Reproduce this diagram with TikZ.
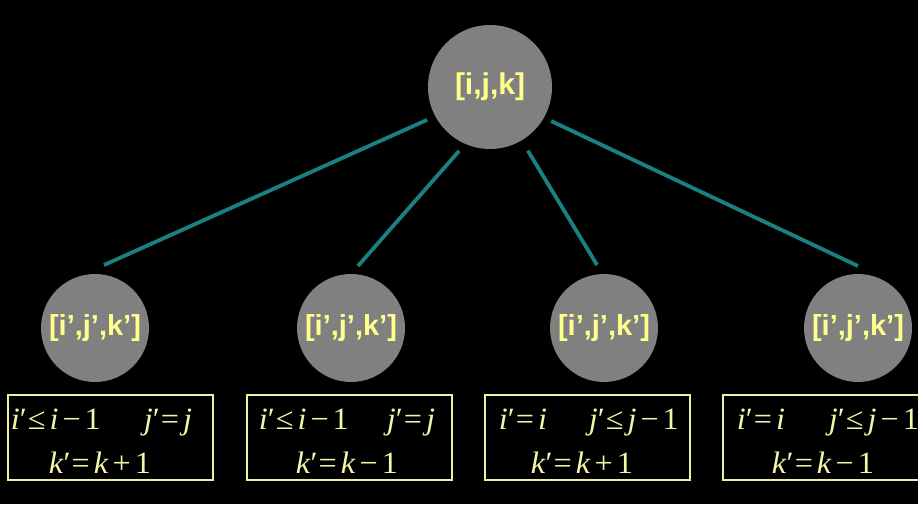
\documentclass[tikz,border=0pt]{standalone}
\usepackage{fontspec}
\setmainfont{Liberation Serif}
\newfontfamily\labelfont{Liberation Sans}
\newfontfamily\condfont[FakeStretch=1.04]{Liberation Serif}
\usetikzlibrary{calc}
\definecolor{nodegray}{HTML}{808080}
\definecolor{labelyellow}{HTML}{FFFF8C}
\definecolor{condyellow}{HTML}{F6F6AA}
\definecolor{edgeteal}{HTML}{1A8080}
\definecolor{boxyellow}{HTML}{F0F0A0}
\newcommand{\iv}{\textit{i}}
\newcommand{\jv}{\textit{j}}
\newcommand{\kv}{\textit{k}}
\newcommand{\pr}{′}
\newcommand{\gp}{\kern4pt}
\begin{document}
\begin{tikzpicture}[x=1pt,y=1pt,
  statenode/.style={circle,fill=nodegray,inner sep=0pt,text=labelyellow,
    font=\labelfont\bfseries\fontsize{30}{30}\selectfont},
  childnode/.style={statenode,minimum size=108pt,
    font=\labelfont\bfseries\fontsize{29}{29}\selectfont},
  link/.style={edgeteal,line width=3.8pt},
  condbox/.style={draw=boxyellow,line width=2.6pt,minimum height=85pt,inner sep=0pt},
  cond/.style={text=condyellow,inner sep=0pt,font=\condfont\fontsize{31}{31}\selectfont}]
  % background and frame
  \useasboundingbox (0,0) rectangle (918,504);
  \clip (0,0) rectangle (918,504);
  \fill[black] (0,0) rectangle (918,504);

  % state nodes
  \node[statenode,minimum size=124pt] (top) at (490,417) {[i,j,k]};
  \node[childnode] (c1) at (95,176) {[i’,j’,k’]};
  \node[childnode] (c2) at (351,176) {[i’,j’,k’]};
  \node[childnode] (c3) at (604,176) {[i’,j’,k’]};
  \node[childnode] (c4) at (858,176) {[i’,j’,k’]};

  % connectors
  \draw[link] ($(top)+(207.6:71)$) -- ($(c1)+(81.9:63.6)$);
  \draw[link] ($(top)+(244.2:71)$) -- ($(c2)+(83.6:62.4)$);
  \draw[link] ($(top)+(300.7:74)$) -- ($(c3)+(96.3:63.4)$);
  \draw[link] ($(top)+(330.9:70)$) -- ($(c4)+(90:62)$);

  % constraint boxes
  \node[condbox,minimum width=205pt] (b1) at (110.5,66.5) {};
  \node[condbox,minimum width=205pt] (b2) at (349.5,66.5) {};
  \node[condbox,minimum width=205pt] (b3) at (587.5,66.5) {};
  \node[condbox,minimum width=205pt] (b4) at (825.5,66.5) {};

  % constraint texts
  \node[cond,anchor=base west] (b1a) at ($(b1.west)+(4,8)$) {\iv\pr\kern1pt≤\gp\iv\gp−\gp1};
  \node[cond,anchor=base west] (b1b) at ($(b1.west)+(137,8)$) {\jv\pr\kern1pt=\gp\jv};
  \node[cond,anchor=base west] (b1c) at ($(b1.west)+(42,-35.5)$) {\kv\pr\kern1pt=\gp\kv\gp+\gp1};

  \node[cond,anchor=base west] (b2a) at ($(b2.west)+(13,8)$) {\iv\pr\kern1pt≤\gp\iv\gp−\gp1};
  \node[cond,anchor=base west] (b2b) at ($(b2.west)+(141,8)$) {\jv\pr\kern1pt=\gp\jv};
  \node[cond,anchor=base west] (b2c) at ($(b2.west)+(50,-35.5)$) {\kv\pr\kern1pt=\gp\kv\gp−\gp1};

  \node[cond,anchor=base west] (b3a) at ($(b3.west)+(15,8)$) {\iv\pr\kern1pt=\gp\iv};
  \node[cond,anchor=base west] (b3b) at ($(b3.west)+(105,8)$) {\jv\pr\kern1pt≤\gp\jv\gp−\gp1};
  \node[cond,anchor=base west] (b3c) at ($(b3.west)+(47,-35.5)$) {\kv\pr\kern1pt=\gp\kv\gp+\gp1};

  \node[cond,anchor=base west] (b4a) at ($(b4.west)+(15,8)$) {\iv\pr\kern1pt=\gp\iv};
  \node[cond,anchor=base west] (b4b) at ($(b4.west)+(107,8)$) {\jv\pr\kern1pt≤\gp\jv\gp−\gp1};
  \node[cond,anchor=base west] (b4c) at ($(b4.west)+(50,-35.5)$) {\kv\pr\kern1pt=\gp\kv\gp−\gp1};
\end{tikzpicture}
\end{document}
